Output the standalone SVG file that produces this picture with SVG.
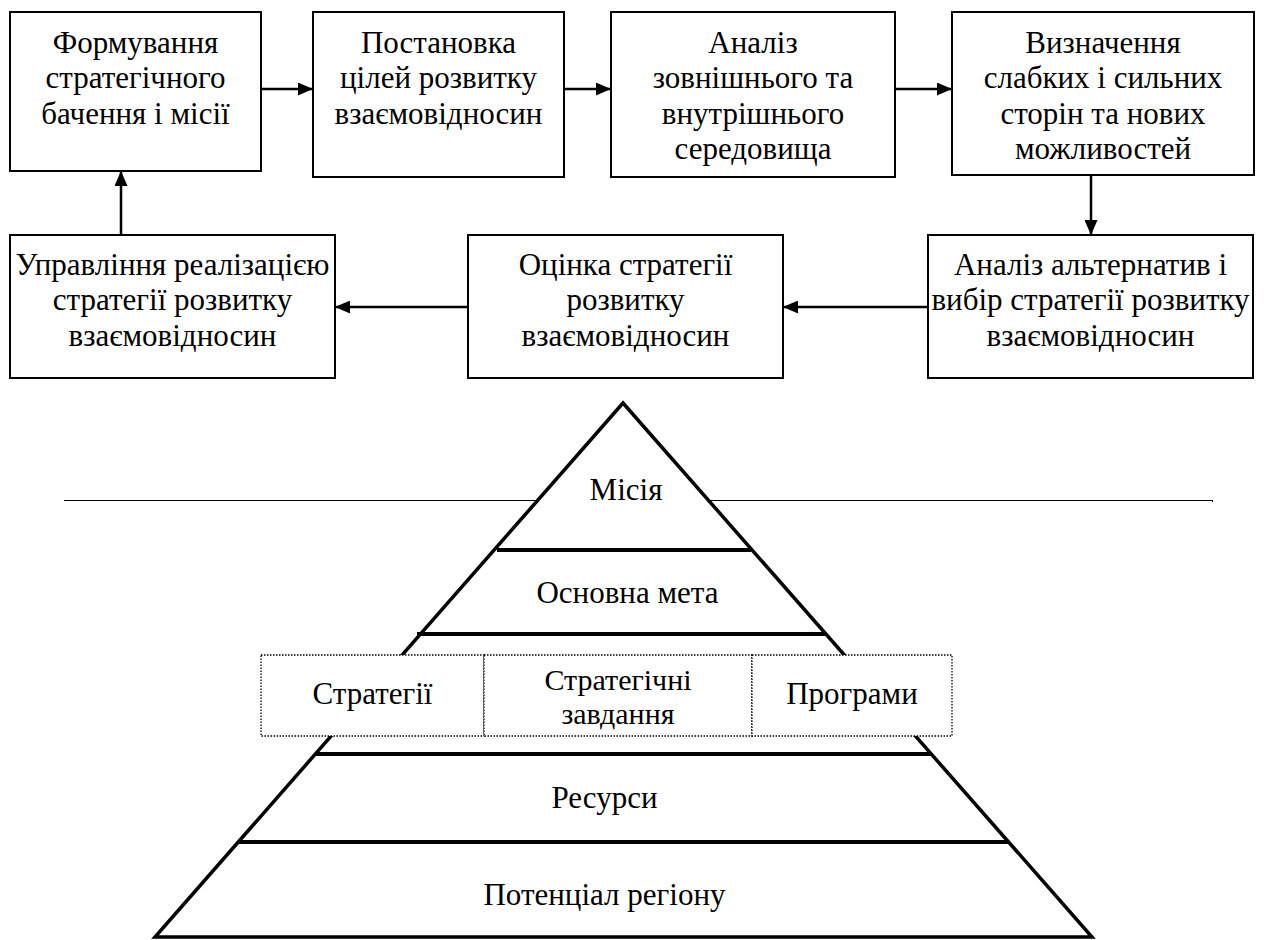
<svg xmlns="http://www.w3.org/2000/svg" width="1266" height="940" viewBox="0 0 1266 940">
  <defs>
    <marker id="arrow" viewBox="0 0 15 13" refX="15" refY="6.5" markerWidth="15" markerHeight="13" markerUnits="userSpaceOnUse" orient="auto">
      <path d="M0,0 L15,6.5 L0,13 Z" fill="#000"/>
    </marker>
    <style>
      .box { fill: #fff; stroke: #000; stroke-width: 2; }
      .lbl { font-family: "Liberation Serif", "Times New Roman", serif; font-size: 31px; fill: #000; text-anchor: middle; }
      .tight { font-size: 30px; }
      .conn { fill: none; stroke: #000; stroke-width: 2.5; marker-end: url(#arrow); }
      .level { stroke: #000; stroke-width: 4; }
      .cell { fill: #fff; stroke: #000; stroke-width: 1.3; stroke-dasharray: 1.5 1.5; }
    </style>
  </defs>

  <!-- process cycle: top row -->
  <g id="n1">
    <rect class="box" x="10" y="12" width="251" height="159"/>
    <text class="lbl" x="135.5" y="52.5">Формування</text>
    <text class="lbl" x="135.5" y="88">стратегічного</text>
    <text class="lbl" x="135.5" y="123.5">бачення і місії</text>
  </g>
  <g id="n2">
    <rect class="box" x="313" y="12" width="251" height="165"/>
    <text class="lbl" x="438.5" y="52.5">Постановка</text>
    <text class="lbl" x="438.5" y="88">цілей розвитку</text>
    <text class="lbl" x="438.5" y="123.5">взаємовідносин</text>
  </g>
  <g id="n3">
    <rect class="box" x="611" y="12" width="284" height="165"/>
    <text class="lbl" x="753" y="52.5">Аналіз</text>
    <text class="lbl" x="753" y="88">зовнішнього та</text>
    <text class="lbl" x="753" y="123.5">внутрішнього</text>
    <text class="lbl" x="753" y="159">середовища</text>
  </g>
  <g id="n4">
    <rect class="box" x="952" y="12" width="302" height="163"/>
    <text class="lbl" x="1103" y="52.5">Визначення</text>
    <text class="lbl" x="1103" y="88">слабких і сильних</text>
    <text class="lbl" x="1103" y="123.5">сторін та нових</text>
    <text class="lbl" x="1103" y="159">можливостей</text>
  </g>

  <!-- process cycle: bottom row -->
  <g id="n5">
    <rect class="box" x="928" y="235" width="325" height="143"/>
    <text class="lbl" x="1090.5" y="274.5">Аналіз альтернатив і</text>
    <text class="lbl" x="1090.5" y="310">вибір стратегії розвитку</text>
    <text class="lbl" x="1090.5" y="345.5">взаємовідносин</text>
  </g>
  <g id="n6">
    <rect class="box" x="468" y="235" width="315" height="143"/>
    <text class="lbl" x="625.5" y="274.5">Оцінка стратегії</text>
    <text class="lbl" x="625.5" y="310">розвитку</text>
    <text class="lbl" x="625.5" y="345.5">взаємовідносин</text>
  </g>
  <g id="n7">
    <rect class="box" x="10" y="235" width="325" height="143"/>
    <text class="lbl" x="172.5" y="274.5">Управління реалізацією</text>
    <text class="lbl" x="172.5" y="310">стратегії розвитку</text>
    <text class="lbl" x="172.5" y="345.5">взаємовідносин</text>
  </g>

  <g id="connectors">
    <line class="conn" x1="261" y1="89" x2="313" y2="89"/>
    <line class="conn" x1="564" y1="89" x2="611" y2="89"/>
    <line class="conn" x1="895" y1="89" x2="952" y2="89"/>
    <line class="conn" x1="1091" y1="175" x2="1091" y2="235"/>
    <line class="conn" x1="928" y1="307" x2="783" y2="307"/>
    <line class="conn" x1="468" y1="307" x2="335" y2="307"/>
    <line class="conn" x1="121" y1="235" x2="121" y2="171"/>
  </g>

  <!-- thin rule behind the pyramid -->
  <line id="rule" x1="64" y1="500.5" x2="1213" y2="500.5" stroke="#000" stroke-width="1"/>
  <line x1="1212.5" y1="500" x2="1212.5" y2="502" stroke="#000" stroke-width="1"/>

  <!-- pyramid of goals -->
  <g id="pyramid">
    <polygon points="623,403 155,937 1092,937" fill="#fff" stroke="#000" stroke-width="3.5" stroke-linejoin="miter"/>
    <line class="level" x1="497" y1="550" x2="751" y2="550"/>
    <line class="level" x1="417" y1="634" x2="826" y2="634"/>
    <line class="level" x1="315" y1="754" x2="931" y2="754"/>
    <line class="level" x1="239" y1="842" x2="1008" y2="842"/>
    <text id="l-mission" class="lbl" x="626" y="500">Місія</text>
    <text id="l-goal" class="lbl" x="627.5" y="603">Основна мета</text>
    <text id="l-resources" class="lbl" x="604.5" y="808">Ресурси</text>
    <text id="l-potential" class="lbl" x="604.5" y="905">Потенціал регіону</text>
  </g>

  <!-- dotted band of strategies, tasks and programmes -->
  <g id="band">
    <g id="c-strategies">
      <rect class="cell" x="261" y="655" width="223" height="81"/>
      <text class="lbl" x="372.5" y="704">Стратегії</text>
    </g>
    <g id="c-tasks">
      <rect class="cell" x="484" y="655" width="268" height="81"/>
      <text class="lbl tight" x="618" y="690">Стратегічні</text>
      <text class="lbl tight" x="618" y="724">завдання</text>
    </g>
    <g id="c-programs">
      <rect class="cell" x="752" y="655" width="200" height="81"/>
      <text class="lbl" x="852" y="704">Програми</text>
    </g>
  </g>
</svg>
